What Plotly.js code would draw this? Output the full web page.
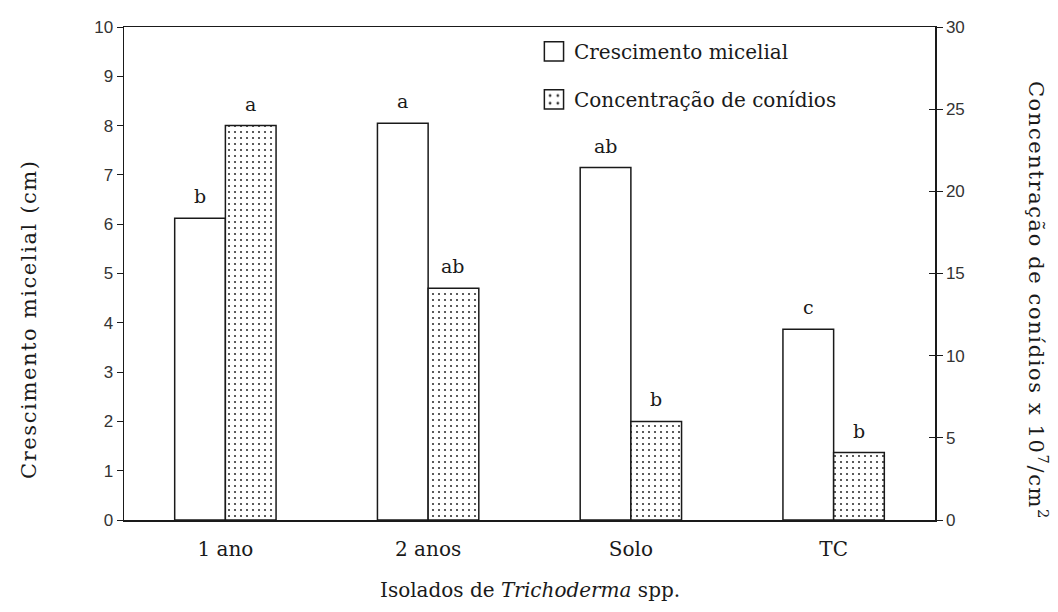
<!DOCTYPE html>
<html>
<head>
<meta charset="utf-8">
<script src="https://cdn.plot.ly/plotly-3.0.1.min.js"></script>
<style>
html,body{margin:0;padding:0;background:#fff;}
#chart{width:1058px;height:612px;}
</style>
</head>
<body>
<div id="chart"></div>
<script>
var categories = ["1 ano", "2 anos", "Solo", "TC"];
var crescimento = [6.12, 8.05, 7.15, 3.87];
var crescimentoLetters = ["b", "a", "ab", "c"];
var conidios = [24.0, 14.1, 6.0, 4.1];
var conidiosLetters = ["a", "ab", "b", "b"];
var leftTicks = [0,1,2,3,4,5,6,7,8,9,10];
var rightTicks = [0,5,10,15,20,25,30];

var serif = "DejaVu Serif, Liberation Serif, serif";
var sans = "Liberation Sans, Arial, sans-serif";
var ink = "#1a1a1a";
var barW = 0.25;

var traces = [
  {
    type: "bar", name: "Crescimento micelial", x: categories, y: crescimento,
    width: barW, offset: -barW, legendgroup: "g1",
    marker: {color: "#ffffff", line: {color: ink, width: 1.5}},
    yaxis: "y", hoverinfo: "skip"
  },
  {
    type: "bar", name: "Concentração de conídios", x: categories, y: conidios,
    width: barW, offset: 0, legendgroup: "g2",
    marker: {color: "#ffffff", line: {color: ink, width: 1.5},
      pattern: {shape: ".", size: 6, solidity: 0.1, fgcolor: "#333", bgcolor: "#ffffff"}},
    yaxis: "y2", hoverinfo: "skip"
  },
  {
    type: "scatter", mode: "markers", x: categories, y: conidios,
    marker: {opacity: 0, size: 1},
    yaxis: "y3", showlegend: false, hoverinfo: "skip"
  }
];

var letterFont = {family: serif, size: 19, color: ink};
var annotations = [];
categories.forEach(function (c, i) {
  annotations.push({x: c, y: crescimento[i], xref: "x", yref: "y", text: crescimentoLetters[i],
    showarrow: false, yanchor: "bottom", xshift: -25.3, yshift: 9, font: letterFont});
  annotations.push({x: c, y: conidios[i], xref: "x", yref: "y2", text: conidiosLetters[i],
    showarrow: false, yanchor: "bottom", xshift: 25.3, yshift: 9, font: letterFont});
});
annotations.push(
  {
    text: "Crescimento micelial (cm)",
    xref: "paper", yref: "paper", x: -0.117, y: 0.408, xanchor: "center", yanchor: "middle",
    textangle: -90, showarrow: false,
    font: {family: serif, size: 21, color: ink}
  },
  {
    text: "Concentração de conídios x 10<sup>7</sup>/cm<sup>2</sup>",
    xref: "paper", yref: "paper", x: 1.127, y: 0.444, xanchor: "center", yanchor: "middle",
    textangle: 90, showarrow: false,
    font: {family: serif, size: 21, color: ink}
  },
  {
    text: "Isolados de <i>Trichoderma</i> spp.",
    xref: "paper", yref: "paper", x: 0.5, y: -0.142, xanchor: "center", yanchor: "middle", showarrow: false,
    font: {family: serif, size: 20, color: ink}
  }
);

var layout = {
  width: 1058, height: 612,
  margin: {l: 124, r: 123, t: 27, b: 92},
  paper_bgcolor: "#fff", plot_bgcolor: "#fff",
  showlegend: true,
  legend: {x: 0.5055, y: 0.99, xanchor: "left", yanchor: "top",
    font: {family: serif, size: 20, color: ink}, tracegroupgap: 19,
    bgcolor: "rgba(0,0,0,0)", traceorder: "grouped"},
  xaxis: {
    type: "category", range: [-0.5, 3.5], showline: true, mirror: true,
    linecolor: ink, linewidth: 1.5, ticks: "", showgrid: false,
    ticklabelstandoff: 10,
    tickfont: {family: serif, size: 20, color: ink}
  },
  yaxis: {
    range: [0, 10], tickvals: leftTicks, showline: true, linecolor: ink, linewidth: 1.5,
    ticks: "outside", ticklen: 6, tickcolor: ink, showgrid: false, zeroline: false,
    tickfont: {family: sans, size: 17, color: "#333"}
  },
  yaxis2: {
    range: [0, 30], tickvals: rightTicks, overlaying: "y", side: "right",
    showline: true, linecolor: ink, linewidth: 1.5,
    ticks: "outside", ticklen: 6, tickcolor: ink, showgrid: false, zeroline: false,
    tickfont: {family: sans, size: 17, color: "#333"}
  },
  yaxis3: {
    range: [0, 30], tickvals: rightTicks, overlaying: "y", side: "right", anchor: "x",
    showline: false, ticks: "inside", ticklen: 6, tickcolor: ink, showticklabels: false,
    showgrid: false, zeroline: false
  },
  annotations: annotations
};

Plotly.newPlot("chart", traces, layout, {displayModeBar: false, staticPlot: true}).then(function (gd) {
  var paths = gd.querySelectorAll(".legend .legendpoints path");
  paths.forEach(function (p) {
    var t = p.getAttribute("transform") || "";
    p.setAttribute("transform", t + " scale(1.6)");
    p.style.vectorEffect = "non-scaling-stroke";
  });
  var ann = gd.querySelectorAll(".annotation-text");
  ann.forEach(function (t) {
    var s = t.textContent;
    if (s.indexOf("Crescimento") === 0 || s.indexOf("Concentra") === 0) {
      t.style.letterSpacing = "1.6px";
    }
  });
});
</script>
</body>
</html>
